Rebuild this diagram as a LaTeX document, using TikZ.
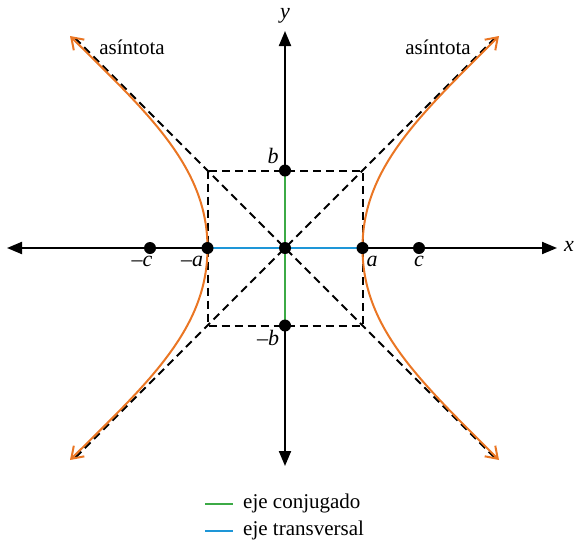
\documentclass[tikz,border=0pt]{standalone}
\usepackage{fontspec}
\setmainfont{Liberation Serif}
\usetikzlibrary{arrows.meta}
\definecolor{hypor}{RGB}{234,118,36}
\definecolor{conj}{RGB}{60,170,70}
\definecolor{transv}{RGB}{30,150,215}
\begin{document}
\begin{tikzpicture}[x=1pt,y=-1pt,
  axis/.style={line width=2pt, {Triangle[length=15pt,width=12pt]}-{Triangle[length=15pt,width=12pt]}},
  asym/.style={dash pattern=on 8pt off 5pt, line width=2pt},
  hyp/.style={hypor, line width=2pt, {Straight Barb[length=11pt,width=15pt,line width=2pt]}-{Straight Barb[length=11pt,width=15pt,line width=2pt]}},
  boxline/.style={dash pattern=on 8pt off 5pt, line width=2pt},
  dot/.style={circle, fill=black, inner sep=0pt, minimum size=12pt},
  lab/.style={font=\fontsize{22}{22}\selectfont\itshape, inner sep=0pt},
  txt/.style={font=\fontsize{21}{22}\selectfont, inner sep=0pt}]
\useasboundingbox (0,0) rectangle (575,544);

% axes
\coordinate (xl) at (7,248);
\coordinate (xr) at (557,248);
\coordinate (yt) at (285,31);
\coordinate (yb) at (285,466);
\draw[axis] (xl) -- (xr);
\draw[axis] (yb) -- (yt);

% asymptotes
\coordinate (a1) at (75,38);
\coordinate (a2) at (495,458);
\coordinate (a3) at (495,38);
\coordinate (a4) at (75,458);
\draw[asym] (a1) -- (a2);
\draw[asym] (a3) -- (a4);

% box
\coordinate (tl) at (207.5,170.5);
\coordinate (br) at (362.5,325.5);
\draw[boxline] (tl) rectangle (br);

% axes segments
\draw[conj, line width=2.2pt] (285,170.5) -- (285,325.5);
\draw[transv, line width=2.2pt] (207.5,248) -- (362.5,248);

% hyperbola
\draw[hyp] (499,460) .. controls (420,381) and (362.5,328) .. (362.5,248)
  .. controls (362.5,168) and (420,115) .. (499,36);
\draw[hyp] (70,460) .. controls (150,381) and (207.5,328) .. (207.5,248)
  .. controls (207.5,168) and (150,115) .. (70,36);

% dots
\node[dot] (pb) at (285,170.5) {};
\node[dot] (nb) at (285,325.5) {};
\node[dot] (na) at (207.5,248) {};
\node[dot] (pa) at (362.5,248) {};
\node[dot] (o) at (285,248) {};
\node[dot] (nc) at (150,248) {};
\node[dot] (pc) at (419,248) {};

% labels
\node[lab] (lb) at (273,156) {b};
\node[lab] (lnb) at (268,338) {\textendash b};
\node[lab] (lna) at (192,261) {\textendash a};
\node[lab] (lpa) at (372,261) {a};
\node[lab] (lnc) at (142,261) {\textendash c};
\node[lab] (lpc) at (419,261) {c};
\node[lab] (lx) at (569,246) {x};
\node[lab] (ly) at (285,16) {y};

\node[txt] (as1) at (132,47) {asíntota};
\node[txt] (as2) at (438,47) {asíntota};

% legend
\coordinate (g1) at (205,504);
\coordinate (g2) at (233,504);
\coordinate (b1) at (205,531);
\coordinate (b2) at (233,531);
\draw[conj, line width=2.2pt] (g1) -- (g2);
\draw[transv, line width=2.2pt] (b1) -- (b2);
\node[txt, anchor=west] (lg1) at (243,503) {eje conjugado};
\node[txt, anchor=west] (lg2) at (243,530) {eje transversal};
\end{tikzpicture}
\end{document}
